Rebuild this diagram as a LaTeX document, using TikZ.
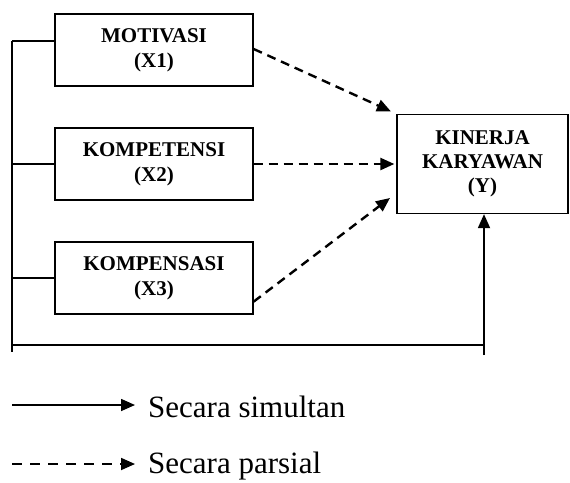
\documentclass[tikz,border=0pt]{standalone}
\usepackage{fontspec}
\setmainfont{Liberation Serif}
\usetikzlibrary{arrows.meta}

\begin{document}
\begin{tikzpicture}[x=1pt,y=-1pt,>={Triangle[length=14pt,width=12pt]},node distance=114pt,
    var node/.style={draw,line width=1.3pt,align=center,minimum width=198pt,minimum height=72pt,inner sep=0pt,font=\bfseries\fontsize{21}{25}\selectfont},
    partial/.style={->,line width=2.4pt,dash pattern=on 9pt off 6pt},
    simultan/.style={->,line width=1.8pt},
    frame line/.style={line width=1.3pt},
    legend text/.style={anchor=base west,inner sep=0pt,font=\fontsize{31}{36}\selectfont}]
                    \useasboundingbox (0,0) rectangle (570,482);

                    \node[var node] (x1) at (154,50) {MOTIVASI\\(X1)};
                    \node[var node] (x2) [below of = x1] {KOMPETENSI\\(X2)};
                    \node[var node] (x3) [below of = x2] {KOMPENSASI\\(X3)};

                    \node[var node, minimum width=171pt, minimum height=99pt, font=\bfseries\fontsize{21}{24}\selectfont] (y) [right of = x2, xshift = 214.5pt] {KINERJA\\KARYAWAN\\(Y)};

                    % garis simultan
                    \coordinate (tl) at (12,41);
                    \coordinate (bl) at (12,352);
                    \coordinate (lb) at (12,345);
                    \coordinate (ya) at (484,355);
                    \draw[frame line] (tl) -- (bl);
                    \draw[frame line] (tl) -- (tl -| x1.west);
                    \draw[frame line] (x2.west) -- (x2.west -| tl);
                    \draw[frame line] (x3.west) -- (x3.west -| tl);
                    \draw[frame line] (lb) -- (lb -| ya);
                    \draw[simultan] (ya) -- (ya |- y.south);

                    % garis parsial
                    \draw[partial, shorten >=6pt] ([yshift=1pt]x1.east) -- (y.north west);
                    \draw[partial, shorten >=2pt] (x2.east) -- (x2.east -| y.west);
                    \draw[partial, shorten >=8pt] ([yshift=13pt]x3.south east) -- ([yshift=21pt]y.south west);

                    % keterangan
                    \node[legend text] (l1) at (148,417) {Secara simultan};
                    \node[legend text] (l2) at (148,473) {Secara parsial};
                    \coordinate (s1) at (12,405);
                    \coordinate (s2) at (12,464);
                    \draw[simultan, line width=1.6pt, shorten >=13pt] (s1) -- (s1 -| l1.west);
                    \draw[->, line width=1.8pt, dash pattern=on 10pt off 8pt, shorten >=13pt] (s2) -- (s2 -| l2.west);
                \end{tikzpicture}
\end{document}
